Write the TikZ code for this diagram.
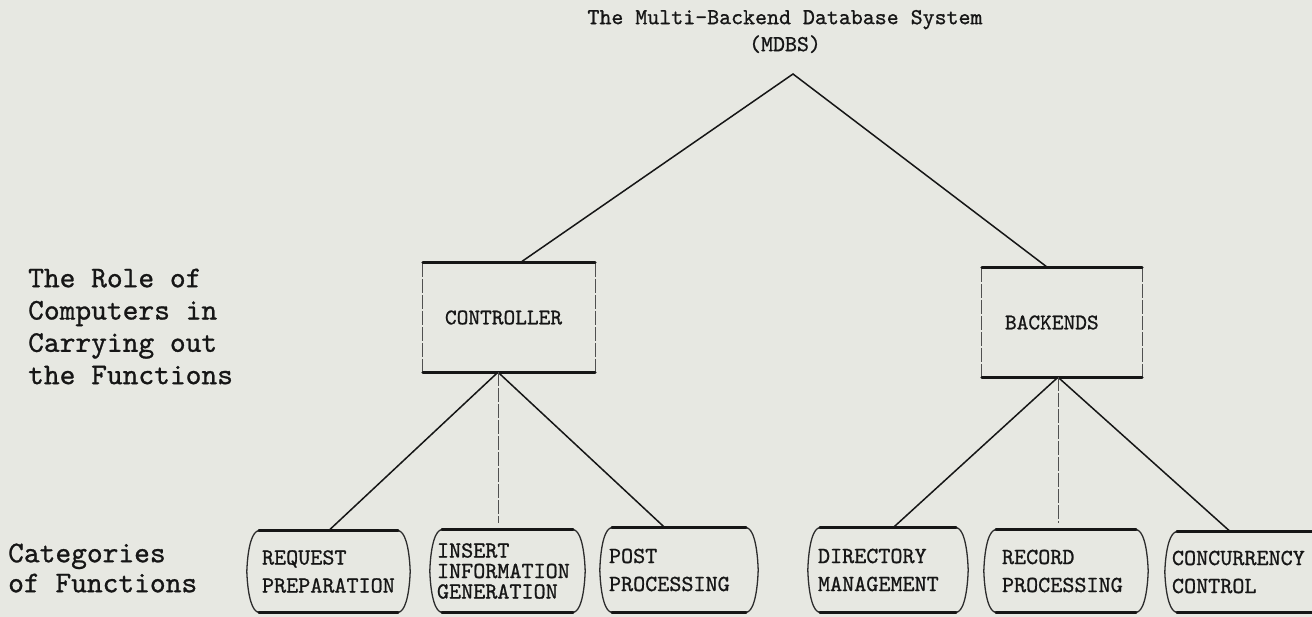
\documentclass[tikz,border=0pt]{standalone}
\usepackage{fontspec}
\setmonofont{lmmono10-regular.otf}[FakeBold=0.9]
\definecolor{paper}{RGB}{231,232,226}
\definecolor{ink}{RGB}{22,22,22}

% outline of a function category: curved sides, heavy top and bottom rules
\newcommand\drawtab[1]{%
  \draw[tabside] ([xshift=12]#1.north west) .. controls ([xshift=6]#1.north west) and ([xshift=1,yshift=-14]#1.north west) .. (#1.west)
      .. controls ([xshift=1,yshift=14]#1.south west) and ([xshift=6]#1.south west) .. ([xshift=12]#1.south west);
  \draw[tabside] ([xshift=-12]#1.north east) .. controls ([xshift=-6]#1.north east) and ([xshift=-1,yshift=-14]#1.north east) .. (#1.east)
      .. controls ([xshift=-1,yshift=14]#1.south east) and ([xshift=-6]#1.south east) .. ([xshift=-12]#1.south east);
  \draw[rule] ([xshift=12]#1.north west) -- ([xshift=-12]#1.north east);
  \draw[rule] ([xshift=12]#1.south west) -- ([xshift=-12]#1.south east);
}
% outline of a computer box: faint sides, heavy top and bottom rules
\newcommand\drawunit[1]{%
  \draw[faint] (#1.north west) -- (#1.south west);
  \draw[faint] (#1.north east) -- (#1.south east);
  \draw[rule] (#1.north west) -- (#1.north east);
  \draw[rule] (#1.south west) -- (#1.south east);
}

\tikzset{
  link/.style={draw=ink, line width=1.5pt, line cap=round},
  faint/.style={draw=ink!75, line width=0.8pt, dash pattern=on 14pt off 2pt},
  rule/.style={draw=ink, line width=2.8pt, line cap=round},
  tabside/.style={draw=ink!90, line width=1.3pt, line cap=round},
  word/.style={text=ink, inner sep=0pt},
  unitbox/.style={word, font={\ttfamily\fontsize{22.3}{26}\selectfont}, align=left, minimum height=109pt},
  catbox/.style={word, font={\ttfamily\fontsize{23}{28}\selectfont}, align=left, inner ysep=0pt},
  catbox3/.style={catbox, font={\ttfamily\fontsize{23}{20.5}\selectfont}},
  sidelabel/.style={word, anchor=west, align=left}
}

\begin{document}
\begin{tikzpicture}[x=1pt,y=-1pt]
\useasboundingbox (0,0) rectangle (1312,617);
\fill[paper] (0,0) rectangle (1312,617);

% title
\node[word, align=center, font={\ttfamily\fontsize{22.8}{27}\selectfont}] (mdbs) at (785,31.5)
  {The Multi-Backend Database System\\(MDBS)};
\coordinate (apex) at (793,74);

% row labels
\node[sidelabel, font={\ttfamily\fontsize{30}{32.3}\selectfont}] (role) at (28,326.5)
  {The Role of\\Computers in\\Carrying out\\the Functions};
\node[sidelabel, font={\ttfamily\fontsize{30}{30}\selectfont}] (cats) at (8,568)
  {Categories\\of Functions};

% computers
\node[unitbox, text width=128pt, inner xsep=22pt] (ctrl) at (509,317.5) {CONTROLLER};
\node[unitbox, text width=114pt, inner xsep=23pt] (back) at (1062,322.5) {BACKENDS};
\drawunit{ctrl}
\drawunit{back}

% function categories
\node[catbox, text width=133pt, inner xsep=15pt, minimum height=81pt] (req) at (328.5,571.5)
  {REQUEST\\PREPARATION};
\node[catbox3, text width=141pt, inner xsep=7pt, minimum height=82pt] (ins) at (507.5,571)
  {INSERT\\INFORMATION\\GENERATION};
\node[catbox, text width=140pt, inner xsep=9pt, minimum height=84pt] (post) at (679,570)
  {POST\\PROCESSING};
\node[catbox, text width=140pt, inner xsep=10pt, minimum height=84pt] (dir) at (888,570)
  {DIRECTORY\\MANAGEMENT};
\node[catbox, text width=128pt, inner xsep=18pt, minimum height=82pt] (rec) at (1066,571)
  {RECORD\\PROCESSING};
\node[catbox, text width=151pt, inner xsep=7pt, minimum height=80pt] (conc) at (1247.5,572)
  {CONCURRENCY\\CONTROL};
\foreach \n in {req,ins,post,dir,rec,conc} {\drawtab{\n}}

% tree connectors
\draw[link] ([xshift=11]ctrl.north) -- (apex) -- ([xshift=-14]back.north);

\coordinate (cj) at ([xshift=-11]ctrl.south);
\draw[link] (req.north) -- (cj) -- ([xshift=-14]post.north);
\draw[faint] (cj) -- ([yshift=7]ins.north -| cj);

\coordinate (bj) at ([xshift=-4]back.south);
\draw[link] ([xshift=5]dir.north) -- (bj) -- ([xshift=-17]conc.north);
\draw[faint] (bj) -- ([yshift=7]rec.north -| bj);
\end{tikzpicture}
\end{document}
